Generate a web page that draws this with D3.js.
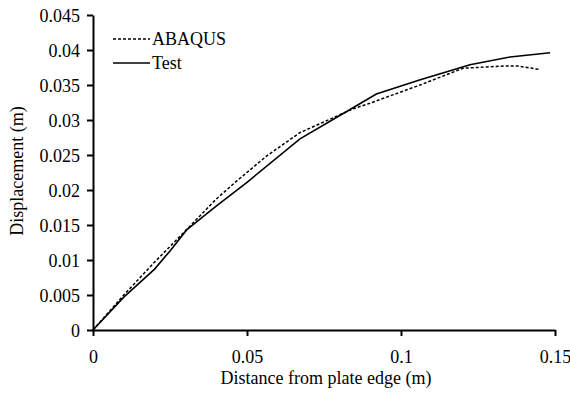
<!DOCTYPE html>
<html>
<head>
<meta charset="utf-8">
<script src="https://cdn.jsdelivr.net/npm/d3@7"></script>
<style>
  html, body { margin: 0; padding: 0; background: #fff; }
  svg { display: block; }
  svg text { font-family: "Liberation Serif", Tinos, "Times New Roman", Times, "DejaVu Serif", serif; fill: #000; }
</style>
</head>
<body>
<svg id="chart" width="570" height="396"></svg>
<script>
// Distance from plate edge (m) and displacement (m)
const abaqusX = [0, 0.01, 0.02, 0.0303, 0.04, 0.0467, 0.0565, 0.0672, 0.0845, 0.0899, 0.1062, 0.1202, 0.1332, 0.138, 0.1451];
const abaqusY = [0, 0.005, 0.0097, 0.0143, 0.0187, 0.0213, 0.0249, 0.0282, 0.0316, 0.0324, 0.035, 0.0374, 0.0377, 0.0377, 0.0372];
const testX = [0, 0.01, 0.02, 0.025, 0.0304, 0.04, 0.05, 0.0672, 0.08, 0.092, 0.106, 0.1224, 0.1354, 0.1484];
const testY = [0, 0.0047, 0.0087, 0.0113, 0.0143, 0.0177, 0.0211, 0.0273, 0.0306, 0.0337, 0.0357, 0.0379, 0.039, 0.0396];
const xTicks = [0, 0.05, 0.1, 0.15];
const yTicks = [0, 0.005, 0.01, 0.015, 0.02, 0.025, 0.03, 0.035, 0.04, 0.045];
const seriesNames = ["ABAQUS", "Test"];

const FONT = "Liberation Serif, Tinos, Times New Roman, serif";
const FS = 18;
const svg = d3.select("#chart");
const x = d3.scaleLinear().domain([0, 0.15]).range([93, 555]);
const y = d3.scaleLinear().domain([0, 0.045]).range([330, 15]);

const fmt = v => v === 0 ? "0" : String(+v.toFixed(3));

// Axes
const xAxis = svg.append("g")
  .attr("transform", `translate(0,${y(0)})`)
  .call(d3.axisBottom(x).tickValues(xTicks).tickFormat(fmt).tickSize(6).tickSizeOuter(0));
const yAxis = svg.append("g")
  .attr("transform", `translate(${x(0)},0)`)
  .call(d3.axisLeft(y).tickValues(yTicks).tickFormat(fmt).tickSize(6).tickSizeOuter(0));

[xAxis, yAxis].forEach(g => {
  g.attr("font-family", FONT).attr("font-size", FS);
  g.select(".domain").attr("stroke", "#000").attr("stroke-width", 2);
  g.selectAll(".tick line").attr("stroke", "#000").attr("stroke-width", 2);
  g.selectAll(".tick text").attr("fill", "#000");
});
xAxis.selectAll(".tick text").attr("y", 20).attr("dy", "0.71em");
yAxis.selectAll(".tick text").attr("x", -13).attr("dy", "0.35em");

// Axis titles
svg.append("text")
  .attr("x", 326).attr("y", 384)
  .attr("text-anchor", "middle")
  .attr("font-family", FONT)
  .attr("font-size", FS)
  .text("Distance from plate edge (m)");
svg.append("text")
  .attr("transform", "translate(23,171) rotate(-90)")
  .attr("text-anchor", "middle")
  .attr("font-family", FONT)
  .attr("font-size", FS)
  .text("Displacement (m)");

// Series lines
const line = d3.line().x(d => x(d[0])).y(d => y(d[1]));
const abaqus = abaqusX.map((v, i) => [v, abaqusY[i]]);
const test = testX.map((v, i) => [v, testY[i]]);

svg.append("path")
  .datum(abaqus)
  .attr("d", line)
  .attr("fill", "none")
  .attr("stroke", "#000")
  .attr("stroke-width", 1.5)
  .attr("stroke-dasharray", "3,2");

svg.append("path")
  .datum(test)
  .attr("d", line)
  .attr("fill", "none")
  .attr("stroke", "#000")
  .attr("stroke-width", 1.6);

// Legend
const legend = svg.append("g");
const legendRows = [
  { name: seriesNames[0], dash: "3,2", y: 39 },
  { name: seriesNames[1], dash: null, y: 63 }
];
legendRows.forEach(r => {
  legend.append("line")
    .attr("x1", 113).attr("x2", 150)
    .attr("y1", r.y).attr("y2", r.y)
    .attr("stroke", "#000")
    .attr("stroke-width", 1.5)
    .attr("stroke-dasharray", r.dash);
  legend.append("text")
    .attr("x", 152).attr("y", r.y + 6)
    .attr("font-family", FONT)
    .attr("font-size", FS)
    .text(r.name);
});
</script>
</body>
</html>
